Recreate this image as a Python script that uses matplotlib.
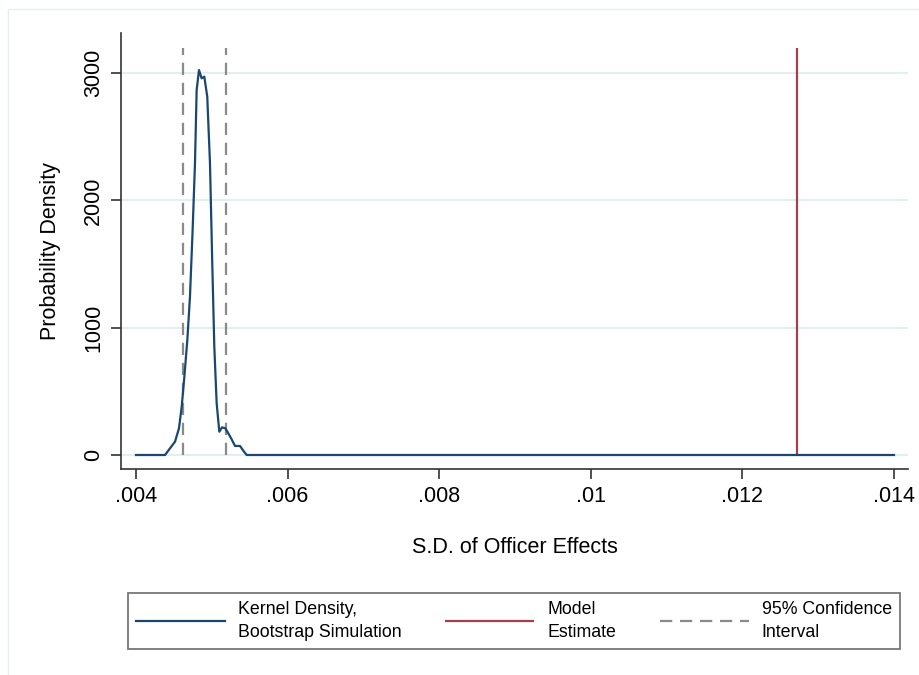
import matplotlib
matplotlib.use("Agg")

import matplotlib.pyplot as plt
from matplotlib.patches import Rectangle

plt.rcParams["font.family"] = ["Liberation Sans", "DejaVu Sans"]

# ── data ───────────────────────────────────────────────────────────────────────
sd_grid = [0.0040, 0.004383, 0.004449, 0.004515, 0.004567, 0.004603, 0.004638,
           0.004677, 0.004712, 0.004747, 0.004778, 0.004800, 0.004831, 0.004866,
           0.004901, 0.004940, 0.004976, 0.005006, 0.005033, 0.005064, 0.005099,
           0.005135, 0.005178, 0.005218, 0.005262, 0.005306, 0.005372, 0.005425,
           0.005460, 0.0140]
density = [0, 0, 53, 105, 210, 380, 615, 903, 1244, 1767, 2291, 2867, 3024, 2959,
           2972, 2815, 2291, 1506, 851, 406, 183, 217, 210, 170, 123, 71, 71, 26,
           0, 0]

ci_bounds = [0.00462, 0.005187]
model_estimate = 0.01272
spike_top = 3200

x_ticks = [0.004, 0.006, 0.008, 0.010, 0.012, 0.014]
x_tick_labels = [".004", ".006", ".008", ".01", ".012", ".014"]
y_ticks = [0, 1000, 2000, 3000]

NAVY = "#1a476f"
MAROON = "#a3404a"
GRAY = "#8a8a8a"
GRID = "#e4eef0"

fig = plt.figure(figsize=(9.2, 6.75), dpi=100)
ax = fig.add_axes([121 / 920, 1 - 469 / 675, (908 - 121) / 920, (469 - 33) / 675])

# faint graph-region outline
fig.patches.append(Rectangle((8 / 920, -0.05), 1.2, 1 - 9 / 675 + 0.05,
                             transform=fig.transFigure, fill=False,
                             edgecolor="#e6eef0", linewidth=1))

for y in y_ticks:
    ax.axhline(y, color=GRID, linewidth=1.5, zorder=0)

ax.plot(sd_grid, density, color=NAVY, linewidth=1.6, zorder=3,
        label="Kernel Density,\nBootstrap Simulation")
ax.vlines(model_estimate, 0, spike_top, color=MAROON, linewidth=1.6, zorder=2,
          label="Model\nEstimate")
ax.vlines(ci_bounds, 0, spike_top, color=GRAY, linewidth=1.6, zorder=2,
          linestyles=(0, (5.5, 3.5)), label="95% Confidence\nInterval")

ax.set_xlim(0.003802, 0.014185)
ax.set_ylim(-110, 3315)
ax.set_xticks(x_ticks)
ax.set_xticklabels(x_tick_labels)
ax.set_yticks(y_ticks)
ax.set_yticklabels([str(v) for v in y_ticks], rotation=90, va="center")

for side in ["top", "right"]:
    ax.spines[side].set_visible(False)
for side in ["left", "bottom"]:
    ax.spines[side].set_color("#333333")
    ax.spines[side].set_linewidth(1.2)
ax.tick_params(axis="both", length=7, width=1.2, color="#333333",
               labelsize=15.5, pad=5)

ax.set_xlabel("S.D. of Officer Effects", fontsize=15.5, labelpad=22)
ax.set_ylabel("Probability Density", fontsize=15.5, labelpad=16)

leg = fig.legend(loc="lower left",
                 bbox_to_anchor=(128 / 920, 1 - 649 / 675, (900 - 128) / 920, (649 - 593) / 675),
                 mode="expand", ncol=3, fontsize=12.8, frameon=True, fancybox=False,
                 handlelength=5, handletextpad=0.75, columnspacing=2.4,
                 borderpad=0.45, borderaxespad=0)
leg.get_frame().set_edgecolor("#555555")
leg.get_frame().set_linewidth(1.3)
for t in leg.get_texts():
    t.set_linespacing(1.45)

fig.savefig("out.png", dpi=100, facecolor="white")
